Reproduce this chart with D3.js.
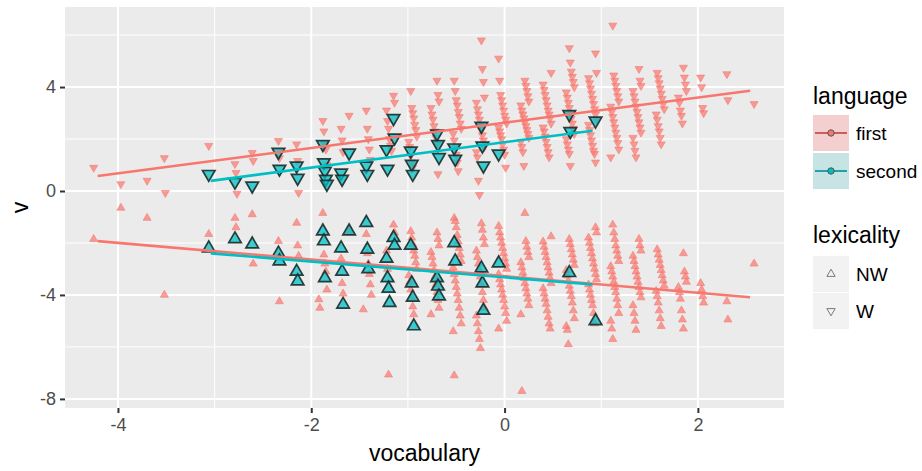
<!DOCTYPE html>
<html>
<head>
<meta charset="utf-8">
<script src="https://cdn.jsdelivr.net/npm/d3@7"></script>
<style>
  body { margin: 0; background: #fff; }
  text { font-family: "Liberation Sans", Arial, sans-serif; }
</style>
</head>
<body>
<svg id="chart" width="922" height="471"></svg>
<script>
// vocabulary score of each column of points
let vocabulary = [-4.21, -3.97, -3.74, -3.51, -3.28, -3.04, -2.81, -2.58, -2.35, -2.11,
    -1.88, -1.65, -1.42, -1.18, -0.95, -0.72, -0.49, -0.25, -0.02, 0.21,
    0.44, 0.68, 0.91, 1.14, 1.37, 1.61, 1.84, 2.07, 2.30, 2.54];

// v values per column, language = first, lexicality = W
let firstW = [
    [0.9], [0.27], [0.4], [1.27, -0.07], [], [1.74], [1.04, 0.7, -0.1], [1.47, 1.16], [1.93, 1.27],
    [1.8, 1.16, -0.07],
    [2.7, 2.3, 1.8, 1.6, 1.0],
    [2.9, 2.4, 1.95, 1.5],
    [3.1, 2.4, 2.0, 1.6, 1.2],
    [3.67, 3.4, 3.1, 2.7, 2.4, 2.0, 1.75, 1.55],
    [3.85, 3.2, 3.0, 2.8, 2.55, 2.35, 2.1, 1.9, 1.7, 1.35, 1.1, 0.9],
    [4.25, 3.7, 3.45, 3.2, 2.95, 2.75, 2.5, 2.3, 2.05, 1.8, 0.65],
    [4.25, 3.85, 3.5, 3.3, 3.05, 2.85, 2.6, 2.4, 2.2, 1.95, 1.7, 1.4, 1.1, 0.77],
    [5.8, 4.7, 4.2, 3.6, 3.4, 3.15, 2.95, 2.75, 2.55, 2.35, 2.15, 1.95, 1.7, 1.5, 1.3, 0.4, -0.15],
    [5.1, 4.25, 3.7, 3.5, 3.3, 3.1, 2.9, 2.75, 2.6, 2.45, 2.3, 2.15, 2.0, 1.8, 1.6, 1.4, 0.9],
    [4.25, 4.05, 3.85, 3.65, 3.45, 3.3, 3.1, 2.95, 2.8, 2.65, 2.5, 2.35, 2.2, 2.05, 1.9, 1.7, 1.5, 0.97],
    [4.55, 4.1, 3.9, 3.7, 3.5, 3.3, 3.1, 2.95, 2.8, 2.6, 2.45, 2.3, 2.1, 1.9, 1.7, 1.5, 1.3],
    [5.5, 4.95, 4.6, 4.4, 4.2, 4.0, 3.8, 3.6, 3.4, 3.2, 3.0, 2.8, 2.6, 2.4, 2.2, 2.0, 1.8, 1.6, 1.43, 0.97],
    [5.3, 4.55, 4.35, 4.15, 3.95, 3.75, 3.55, 3.35, 3.15, 2.95, 2.75, 2.55, 2.35, 2.15, 1.95, 1.75, 1.55, 1.43, 1.1],
    [6.37, 4.45, 4.25, 4.05, 3.85, 3.65, 3.45, 3.25, 3.05, 2.85, 2.65, 2.45, 2.25, 2.05, 1.85, 1.6, 1.3],
    [4.7, 4.25, 4.05, 3.85, 3.65, 3.45, 3.25, 3.05, 2.85, 2.65, 2.45, 2.25, 2.05, 1.8, 1.55, 1.3],
    [4.55, 4.35, 4.15, 3.95, 3.75, 3.55, 3.35, 3.15, 2.95, 2.75, 2.5, 2.3, 2.05, 1.8],
    [4.75, 4.37, 4.1, 3.85, 3.6, 3.4, 3.1, 2.9, 2.6],
    [4.37, 4.0, 3.2, 3.0],
    [4.5, 3.5],
    [3.35]
];

// language = first, lexicality = NW
let firstNW = [
    [-1.85], [-0.65], [-1.04], [-4.0], [], [-1.66], [-1.04, -1.4], [-0.9, -2.8], [-1.93, -4.25],
    [-1.23, -2.1, -2.5],
    [-0.85, -2.45, -2.8, -3.1, -3.8, -4.17, -4.5],
    [-1.55, -2.6, -3.55, -3.95],
    [-1.66, -2.4, -2.8, -3.2, -3.6, -4.0, -4.56],
    [-1.3, -1.6, -2.3, -3.0, -7.07],
    [-1.55, -1.8, -2.05, -2.3, -2.5, -2.75, -3.0, -3.25, -3.5, -3.8, -4.1, -4.45, -4.75],
    [-1.6, -1.85, -2.1, -2.35, -2.55, -2.8, -3.05, -3.3, -3.6, -3.9, -4.2, -4.5, -4.75],
    [-1.04, -1.16, -1.4, -1.7, -1.95, -2.2, -2.45, -2.7, -2.95, -3.2, -3.45, -3.7, -3.95, -4.2, -4.5, -4.8, -5.1, -5.4, -7.1],
    [-1.25, -1.5, -1.8, -2.05, -2.3, -2.55, -2.8, -3.05, -3.3, -3.6, -3.9, -4.2, -4.5, -4.8, -5.1, -5.4, -5.7, -6.05],
    [-1.35, -1.6, -1.8, -2.0, -2.2, -2.4, -2.6, -2.8, -3.0, -3.2, -3.4, -3.6, -3.8, -4.0, -4.2, -4.45, -4.7, -5.0, -5.3],
    [-0.85, -1.93, -2.15, -2.35, -2.55, -2.75, -2.95, -3.15, -3.35, -3.55, -3.75, -3.95, -4.15, -4.4, -4.75, -7.7],
    [-1.75, -1.95, -2.15, -2.35, -2.55, -2.75, -2.95, -3.15, -3.35, -3.55, -3.75, -3.95, -4.15, -4.35, -4.6, -4.85, -5.1, -5.3],
    [-1.85, -2.05, -2.25, -2.45, -2.65, -2.85, -3.05, -3.25, -3.45, -3.65, -3.85, -4.05, -4.3, -4.6, -4.9, -5.2, -5.35, -5.9],
    [-1.4, -1.6, -1.8, -2.0, -2.2, -2.4, -2.6, -2.8, -3.0, -3.2, -3.4, -3.6, -3.8, -4.0, -4.2, -4.4, -4.7, -5.1],
    [-1.3, -1.6, -1.85, -2.1, -2.3, -2.5, -2.7, -2.9, -3.1, -3.3, -3.5, -3.7, -3.9, -4.15, -4.4, -4.7, -5.0, -5.3, -5.7],
    [-1.85, -2.1, -2.3, -2.5, -2.7, -2.9, -3.1, -3.3, -3.5, -3.7, -3.9, -4.1, -4.4, -4.7, -5.0, -5.35],
    [-2.25, -2.45, -2.65, -2.85, -3.05, -3.25, -3.45, -3.65, -3.85, -4.05, -4.3, -4.6, -4.9, -5.2],
    [-2.4, -3.1, -3.3, -3.5, -3.7, -3.9, -4.15, -4.6, -4.95, -5.3],
    [-3.55, -3.8, -4.05, -4.3],
    [-4.25, -4.95],
    [-2.8]
];

// language = second, lexicality = W
let secondW = [
    [], [], [], [], [], [0.65], [0.35], [0.2], [1.5, 0.85], [0.97, 0.5],
    [1.8, 1.1, 0.77, 0.46, 0.27], [1.47, 0.7, 0.46], [0.97, 0.65], [2.8, 2.05, 1.6, 0.85], [1.55, 1.04, 0.65],
    [2.2, 1.8, 1.3], [1.67, 1.23], [2.5, 1.74, 0.97], [1.43], [],
    [], [2.95, 2.3], [2.7], [], [], [], [], [], [], []
];

// language = second, lexicality = NW
let secondNW = [
    [], [], [], [], [], [-2.2], [-1.85], [-2.05], [-2.4, -2.7], [-3.1, -3.47],
    [-1.55, -1.93, -3.35], [-1.55, -2.2, -3.1, -4.37], [-1.22, -2.25, -3.0], [-1.8, -2.1, -2.6, -3.35, -3.75, -4.3], [-2.1, -3.55, -4.1, -5.2],
    [-3.35, -3.67, -4.05], [-2.0, -2.7], [-2.97, -3.55, -4.6], [-2.78], [],
    [], [-3.15], [-5.0], [], [], [], [], [], [], []
];

// fitted lines (lm)
let fitLanguage = ["first", "second", "first", "second"];
let fitFromX = [-4.21, -3.04, -4.21, -3.04];
let fitToX = [2.54, 0.91, 2.54, 0.91];
let fitFromV = [0.58, 0.39, -1.93, -2.4];
let fitToV = [3.86, 2.32, -4.09, -3.6];

let xTicks = [-4, -2, 0, 2];
let xMinor = [-3, -1, 1];
let yTicks = [-8, -4, 0, 4];
let yMinor = [-6, -2, 2, 6];

let colors = { first: '#F8766D', second: '#00BFC4' };

let svg = d3.select('#chart');

let panelLeft = 65, panelRight = 784, panelTop = 7, panelBottom = 408;

let xScale = d3.scaleLinear().domain([-4.548, 2.891]).range([panelLeft, panelRight]);
let yScale = d3.scaleLinear().domain([-8.35, 7.08]).range([panelBottom, panelTop]);

// panel
svg.append('rect')
    .attr('x', panelLeft).attr('y', panelTop)
    .attr('width', panelRight - panelLeft).attr('height', panelBottom - panelTop)
    .attr('fill', '#EBEBEB');

let grid = svg.append('g');
grid.selectAll('.ymin').data(yMinor).enter().append('line')
    .attr('x1', panelLeft).attr('x2', panelRight)
    .attr('y1', (d) => yScale(d)).attr('y2', (d) => yScale(d))
    .attr('stroke', '#fff').attr('stroke-width', 1);
grid.selectAll('.xmin').data(xMinor).enter().append('line')
    .attr('y1', panelTop).attr('y2', panelBottom)
    .attr('x1', (d) => xScale(d)).attr('x2', (d) => xScale(d))
    .attr('stroke', '#fff').attr('stroke-width', 1);
grid.selectAll('.ymaj').data(yTicks).enter().append('line')
    .attr('x1', panelLeft).attr('x2', panelRight)
    .attr('y1', (d) => yScale(d)).attr('y2', (d) => yScale(d))
    .attr('stroke', '#fff').attr('stroke-width', 2);
grid.selectAll('.xmaj').data(xTicks).enter().append('line')
    .attr('y1', panelTop).attr('y2', panelBottom)
    .attr('x1', (d) => xScale(d)).attr('x2', (d) => xScale(d))
    .attr('stroke', '#fff').attr('stroke-width', 2);

// flatten column arrays into points
let toPoints = (cols, language, lexicality) => {
    let pts = [];
    cols.forEach((col, c) => {
        col.forEach((v, i) => {
            pts.push({ vocabulary: vocabulary[c], v: v, language: language, lexicality: lexicality, idx: c * 31 + i });
        });
    });
    return pts;
};

let triSmall = d3.symbol().type(d3.symbolTriangle).size(28);
let triBig = d3.symbol().type(d3.symbolTriangle).size(68);

let drawPoints = (pts) => {
    svg.append('g').selectAll('path')
        .data(pts)
        .enter()
        .append('path')
        .attr('d', (p) => p.language === 'first' ? triSmall() : triBig())
        .attr('transform', (p) => {
            let jitter = ((p.idx * 37) % 9 - 4) * 1.0;
            let rot = p.lexicality === 'W' ? ' rotate(180)' : '';
            return 'translate(' + (xScale(p.vocabulary) + jitter) + ',' + yScale(p.v) + ')' + rot;
        })
        .attr('fill', (p) => colors[p.language])
        .attr('fill-opacity', (p) => p.language === 'first' ? 0.7 : 0.75)
        .attr('stroke', (p) => p.language === 'first' ? colors.first : '#1b2b2b')
        .attr('stroke-opacity', (p) => p.language === 'first' ? 0.7 : 0.9)
        .attr('stroke-width', (p) => p.language === 'first' ? 0.8 : 1.7);
};

drawPoints(toPoints(firstW, 'first', 'W').concat(toPoints(firstNW, 'first', 'NW')));
drawPoints(toPoints(secondW, 'second', 'W').concat(toPoints(secondNW, 'second', 'NW')));

// fitted lines
svg.append('g').selectAll('line')
    .data(d3.range(fitLanguage.length))
    .enter()
    .append('line')
    .attr('x1', (i) => xScale(fitFromX[i]))
    .attr('x2', (i) => xScale(fitToX[i]))
    .attr('y1', (i) => yScale(fitFromV[i]))
    .attr('y2', (i) => yScale(fitToV[i]))
    .attr('stroke', (i) => colors[fitLanguage[i]])
    .attr('stroke-width', 2.6);

// axes (ggplot writes a plain hyphen for negatives)
let xAxis = svg.append('g').attr('transform', 'translate(0,' + panelBottom + ')')
    .call(d3.axisBottom(xScale).tickValues(xTicks).tickSize(5).tickPadding(5).tickFormat((d) => String(d)));
let yAxis = svg.append('g').attr('transform', 'translate(' + panelLeft + ',0)')
    .call(d3.axisLeft(yScale).tickValues(yTicks).tickSize(5).tickPadding(4).tickFormat((d) => String(d)));

[xAxis, yAxis].forEach((ax) => {
    ax.select('.domain').remove();
    ax.selectAll('.tick line').attr('stroke', '#333').attr('stroke-width', 2);
    ax.selectAll('.tick text')
        .attr('fill', '#4D4D4D')
        .style('font-size', '18px')
        .style('font-family', '"Liberation Sans", Arial, sans-serif');
});

svg.append('text')
    .attr('x', (panelLeft + panelRight) / 2).attr('y', 461)
    .attr('text-anchor', 'middle')
    .style('font-size', '23px')
    .text('vocabulary');

svg.append('text')
    .attr('transform', 'translate(28,' + ((panelTop + panelBottom) / 2) + ') rotate(-90)')
    .attr('text-anchor', 'middle')
    .style('font-size', '23px')
    .text('v');

// legend
let legend = svg.append('g');
let lx = 813;

legend.append('text').attr('x', lx).attr('y', 104).style('font-size', '23px').text('language');

let langKeys = [
    { label: 'first', y: 115, bg: '#F3D0CF', line: '#C85F5B', fill: colors.first },
    { label: 'second', y: 153, bg: '#C7E3E4', line: '#1FA3A6', fill: colors.second }
];
langKeys.forEach((k) => {
    legend.append('rect').attr('x', lx).attr('y', k.y).attr('width', 36).attr('height', 36).attr('fill', k.bg);
    legend.append('line')
        .attr('x1', lx + 2).attr('x2', lx + 34)
        .attr('y1', k.y + 18).attr('y2', k.y + 18)
        .attr('stroke', k.line).attr('stroke-width', 2);
    legend.append('circle')
        .attr('cx', lx + 18).attr('cy', k.y + 18).attr('r', 3.2)
        .attr('fill', k.fill).attr('stroke', '#555').attr('stroke-width', 1);
    legend.append('text').attr('x', lx + 43).attr('y', k.y + 25).style('font-size', '19px').text(k.label);
});

legend.append('text').attr('x', lx).attr('y', 243).style('font-size', '23px').text('lexicality');

let lexKeys = [
    { label: 'NW', y: 256, rot: '' },
    { label: 'W', y: 293, rot: ' rotate(180)' }
];
lexKeys.forEach((k) => {
    legend.append('rect').attr('x', lx).attr('y', k.y).attr('width', 36).attr('height', 36).attr('fill', '#F2F2F2');
    legend.append('path')
        .attr('d', d3.symbol().type(d3.symbolTriangle).size(30)())
        .attr('transform', 'translate(' + (lx + 18) + ',' + (k.y + 18) + ')' + k.rot)
        .attr('fill', 'none').attr('stroke', '#7a7a7a').attr('stroke-width', 1);
    legend.append('text').attr('x', lx + 43).attr('y', k.y + 25).style('font-size', '19px').text(k.label);
});
</script>
</body>
</html>
